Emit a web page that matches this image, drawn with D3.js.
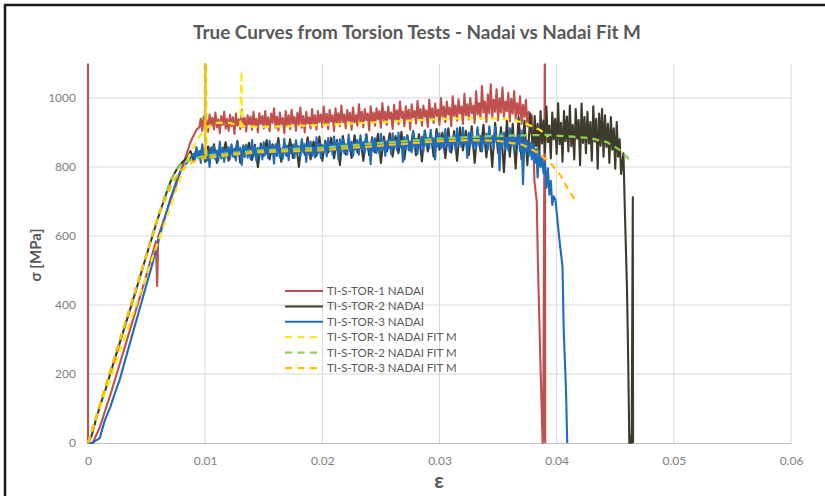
<!DOCTYPE html>
<html lang="en">
  <head>
    <meta charset="utf-8">
    <title>True Curves from Torsion Tests</title>
    <script src="https://d3js.org/d3.v7.min.js"></script>
    <style>
      body { margin: 0; background: #fff; }
      text { font-family: Lato, "Open Sans", sans-serif; }
    </style>
  </head>
  <body>
    <script>

      // [strain, stress MPa]
      var tor1 = [[0,1250],[0,0],[0.0004,0],[0.001,45],[0.002,150],[0.003,262],[0.004,375],[0.005,488],[0.0058,585],[0.0059,455],[0.006,600],[0.0065,650],[0.007,700],[0.0075,745],[0.0078,780],[0.0081,805],[0.0084,835],[0.0087,868],[0.0089,884],[0.0093,910],
        [0.0095,915],[0.009625,940],[0.00975,905],[0.009875,946],[0.01,918],[0.010125,936],[0.01025,902],[0.010375,952],[0.0105,920],[0.010625,943],[0.01075,909],[0.010875,958],[0.011,915],[0.011125,938],[0.01125,898],[0.011375,948],
        [0.0115,922],[0.011625,960],[0.01175,912],[0.011875,940],[0.012,905],[0.012125,952],[0.01225,918],[0.012375,944],[0.0125,896],[0.012625,955],[0.01275,920],[0.012875,938],[0.013,910],[0.013125,966],[0.01325,916],[0.013375,942],
        [0.0135,903],[0.013625,950],[0.01375,924],[0.013875,946],[0.014,908],[0.014125,960],[0.01425,919],[0.014375,940],[0.0145,900],[0.014625,956],[0.01475,925],[0.014875,948],[0.015,912],[0.015125,962],[0.01525,920],[0.015375,944],
        [0.0155,904],[0.015625,955],[0.01575,928],[0.015875,970],[0.016,914],[0.016125,946],[0.01625,906],[0.016375,958],[0.0165,924],[0.016625,942],[0.01675,898],[0.016875,962],[0.017,920],[0.017125,950],[0.01725,910],[0.017375,966],
        [0.0175,926],[0.017625,945],[0.01775,905],[0.017875,958],[0.018,922],[0.018125,972],[0.01825,914],[0.018375,948],[0.0185,900],[0.018625,960],[0.01875,926],[0.018875,944],[0.019,912],[0.019125,968],[0.01925,922],[0.019375,950],
        [0.0195,908],[0.019625,962],[0.01975,930],[0.019875,952],[0.02,916],[0.020125,975],[0.02025,925],[0.020375,954],[0.0205,910],[0.020625,966],[0.02075,932],[0.020875,950],[0.021,904],[0.021125,970],[0.02125,928],[0.021375,956],
        [0.0215,918],[0.021625,978],[0.02175,930],[0.021875,952],[0.022,912],[0.022125,965],[0.02225,934],[0.022375,958],[0.0225,908],[0.022625,972],[0.02275,929],[0.022875,950],[0.023,920],[0.023125,982],[0.02325,932],[0.023375,960],
        [0.0235,915],[0.023625,968],[0.02375,936],[0.023875,955],[0.024,906],[0.024125,976],[0.02425,930],[0.024375,958],[0.0245,920],[0.024625,970],[0.02475,938],[0.024875,962],[0.025,914],[0.025125,985],[0.02525,935],[0.025375,960],
        [0.0255,922],[0.025625,975],[0.02575,940],[0.025875,958],[0.026,910],[0.026125,980],[0.02625,936],[0.026375,964],[0.0265,924],[0.026625,990],[0.02675,942],[0.026875,960],[0.027,918],[0.027125,976],[0.02725,938],[0.027375,966],
        [0.0275,908],[0.027625,982],[0.02775,944],[0.027875,962],[0.028,926],[0.028125,992],[0.02825,940],[0.028375,968],[0.0285,920],[0.028625,978],[0.02875,946],[0.028875,964],[0.029,916],[0.029125,995],[0.02925,942],[0.029375,970],
        [0.0295,928],[0.029625,984],[0.02975,948],[0.029875,966],[0.03,922],[0.030125,1000],[0.03025,946],[0.030375,975],[0.0305,930],[0.030625,990],[0.03075,952],[0.030875,972],[0.031,918],[0.031125,1005],[0.03125,948],[0.031375,978],
        [0.0315,935],[0.031625,996],[0.03175,955],[0.031875,975],[0.032,925],[0.032125,1012],[0.03225,950],[0.032375,982],[0.0325,938],[0.032625,1000],[0.03275,956],[0.032875,978],[0.033,928],[0.033125,1020],[0.03325,952],[0.033375,985],
        [0.0335,940],[0.033625,1035],[0.03375,958],[0.033875,990],[0.034,930],[0.034125,1010],[0.03425,955],[0.034375,1040],[0.0345,942],[0.034625,995],[0.03475,960],[0.034875,1025],[0.035,935],[0.035125,1000],[0.03525,958],[0.035375,1030],
        [0.0355,945],[0.035625,990],[0.03575,962],[0.035875,1015],[0.036,932],[0.036125,998],[0.03625,955],[0.036375,1020],[0.0365,940],[0.036625,985],[0.03675,950],[0.036875,1005],[0.037,925],[0.037125,980],[0.03725,945],[0.037375,995],
        [0.0375,918],[0.037625,960],[0.03775,900],[0.037875,950],[0.038,880],[0.0381,760],[0.0383,700],[0.0384,520],[0.0386,250],[0.0388,0],[0.03885,10],[0.039,1250],[0.03902,0]];

      var tor2 = [[0,0],[0.0003,20],[0.0006,58],[0.001,105],[0.00145,150],[0.002,212],[0.003,322],[0.004,432],[0.005,545],[0.006,655],[0.0065,705],[0.0069,745],[0.0072,770],[0.0076,795],[0.008,812],
        [0.0085,828],[0.00875,846],[0.009,818],[0.00925,852],[0.0095,825],[0.00975,858],[0.01,815],[0.01025,860],[0.0105,830],[0.01075,866],[0.011,812],[0.01125,858],[0.0115,836],[0.01175,872],[0.012,818],[0.01225,860],
        [0.0125,828],[0.01275,876],[0.013,812],[0.01325,862],[0.0135,838],[0.01375,870],[0.014,820],[0.01425,864],[0.0145,800],[0.01475,868],[0.015,832],[0.01525,878],[0.0155,822],[0.01575,866],[0.016,838],[0.01625,884],
        [0.0165,815],[0.01675,870],[0.017,832],[0.01725,880],[0.0175,826],[0.01775,872],[0.018,800],[0.01825,876],[0.0185,836],[0.01875,886],[0.019,822],[0.01925,874],[0.0195,832],[0.01975,888],[0.02,818],[0.02025,876],
        [0.0205,842],[0.02075,885],[0.021,825],[0.02125,878],[0.0215,806],[0.02175,890],[0.022,836],[0.02225,882],[0.0225,826],[0.02275,892],[0.023,842],[0.02325,884],[0.0235,818],[0.02375,895],[0.024,834],[0.02425,886],
        [0.0245,842],[0.02475,896],[0.025,812],[0.02525,888],[0.0255,845],[0.02575,898],[0.026,830],[0.02625,890],[0.0265,840],[0.02675,902],[0.027,822],[0.02725,892],[0.0275,848],[0.02775,904],[0.028,834],[0.02825,895],
        [0.0285,816],[0.02875,906],[0.029,845],[0.02925,898],[0.0295,830],[0.02975,910],[0.03,850],[0.03025,900],[0.0305,826],[0.03075,912],[0.031,842],[0.03125,904],[0.0315,818],[0.03175,914],[0.032,848],[0.03225,905],
        [0.0325,835],[0.03275,918],[0.033,812],[0.03325,908],[0.0335,846],[0.03375,922],[0.034,828],[0.03425,912],[0.0345,800],[0.03475,928],[0.035,840],[0.03525,915],[0.0355,785],[0.03575,935],[0.036,830],[0.03625,925],
        [0.0365,795],[0.03675,945],[0.037,822],[0.03725,935],[0.0375,805],[0.03775,955],
        [0.038,832],[0.038125,948],[0.03825,860],[0.038375,925],[0.0385,812],[0.038625,962],[0.03875,868],[0.038875,935],[0.039,842],[0.039125,975],[0.03925,872],[0.039375,920],[0.0395,825],[0.039625,958],[0.03975,880],[0.039875,940],
        [0.04,838],[0.040125,985],[0.04025,866],[0.040375,928],[0.0405,815],[0.040625,962],[0.04075,875],[0.040875,946],[0.041,845],[0.041125,978],[0.04125,860],[0.041375,922],[0.0415,822],[0.041625,968],[0.04175,882],[0.041875,936],
        [0.042,805],[0.042125,984],[0.04225,870],[0.042375,945],[0.0425,840],[0.042625,960],[0.04275,868],[0.042875,930],[0.043,818],[0.043125,976],[0.04325,874],[0.043375,940],[0.0435,795],[0.043625,955],[0.04375,862],[0.043875,968],
        [0.044,830],[0.044125,950],[0.04425,858],[0.044375,925],[0.0445,812],[0.044625,945],[0.04475,850],[0.044875,912],[0.045,795],[0.045125,930],[0.04525,830],[0.045375,880],[0.0455,780],
        [0.0457,840],[0.0458,700],[0.046,450],[0.0461,250],[0.0462,0],[0.0463,20],[0.0464,0],[0.0465,712],[0.04652,0]];

      var tor3 = [[0,0],[0.00034,0],[0.00077,9],[0.001,14],[0.0012,38],[0.00145,67],[0.0019,104],[0.0023,145],[0.0027,183],[0.0035,280],[0.0045,400],[0.0055,520],[0.0062,610],[0.007,704],[0.0075,755],[0.008,795],[0.0085,815],
        [0.009,838],[0.009125,820],[0.00925,858],[0.009375,826],[0.0095,846],[0.009625,812],[0.00975,866],[0.009875,828],[0.01,851],[0.010125,817],[0.01025,845],[0.010375,800],[0.0105,857],[0.010625,826],[0.01075,860],[0.010875,822],
        [0.011,848],[0.011125,818],[0.01125,874],[0.011375,825],[0.0115,856],[0.011625,815],[0.01175,852],[0.011875,830],[0.012,858],[0.012125,824],[0.01225,866],[0.012375,831],[0.0125,853],[0.012625,819],[0.01275,870],[0.012875,834],
        [0.013,856],[0.013125,806],[0.01325,862],[0.013375,829],[0.0135,865],[0.013625,827],[0.01375,851],[0.013875,823],[0.014,878],[0.014125,830],[0.01425,859],[0.014375,818],[0.0145,855],[0.014625,835],[0.01475,860],[0.014875,822],
        [0.015,872],[0.015125,836],[0.01525,857],[0.015375,826],[0.0155,876],[0.015625,838],[0.01575,861],[0.015875,810],[0.016,866],[0.016125,832],[0.01625,869],[0.016375,828],[0.0165,853],[0.016625,824],[0.01675,882],[0.016875,835],
        [0.017,862],[0.017125,820],[0.01725,858],[0.017375,840],[0.0175,865],[0.017625,827],[0.01775,878],[0.017875,841],[0.018,860],[0.018125,830],[0.01825,881],[0.018375,842],[0.0185,866],[0.018625,815],[0.01875,872],[0.018875,836],
        [0.019,874],[0.019125,832],[0.01925,857],[0.019375,828],[0.0195,886],[0.019625,840],[0.01975,867],[0.019875,826],[0.02,864],[0.020125,845],[0.02025,870],[0.020375,831],[0.0205,884],[0.020625,846],[0.02075,866],[0.020875,836],
        [0.021,888],[0.021125,850],[0.02125,873],[0.021375,822],[0.0215,880],[0.021625,845],[0.02175,881],[0.021875,840],[0.022,866],[0.022125,836],[0.02225,894],[0.022375,846],[0.0225,873],[0.022625,832],[0.02275,870],[0.022875,850],
        [0.023,878],[0.023125,836],[0.02325,892],[0.023375,851],[0.0235,872],[0.023625,842],[0.02375,895],[0.023875,850],[0.024,869],[0.024125,808],[0.02425,880],[0.024375,846],[0.0245,883],[0.024625,841],[0.02475,868],[0.024875,838],
        [0.025,896],[0.025125,850],[0.02525,878],[0.025375,832],[0.0255,874],[0.025625,853],[0.02575,880],[0.025875,837],[0.026,898],[0.026125,856],[0.02625,878],[0.026375,848],[0.0265,900],[0.026625,857],[0.02675,876],[0.026875,815],
        [0.027,887],[0.027125,852],[0.02725,890],[0.027375,848],[0.0275,873],[0.027625,843],[0.02775,902],[0.027875,854],[0.028,882],[0.028125,838],[0.02825,880],[0.028375,860],[0.0285,888],[0.028625,844],[0.02875,905],[0.028875,862],
        [0.029,884],[0.029125,854],[0.02925,908],[0.029375,864],[0.0295,883],[0.029625,822],[0.02975,895],[0.029875,859],[0.03,898],[0.030125,855],[0.03025,880],[0.030375,850],[0.0305,910],[0.030625,861],[0.03075,889],[0.030875,845],
        [0.031,885],[0.031125,866],[0.03125,893],[0.031375,849],[0.0315,912],[0.031625,866],[0.03175,888],[0.031875,858],[0.032,914],[0.032125,868],[0.03225,886],[0.032375,826],[0.0325,900],[0.032625,862],[0.03275,902],[0.032875,857],
        [0.033,884],[0.033125,852],[0.03325,915],[0.033375,864],[0.0335,890],[0.033625,845],[0.03375,888],[0.033875,868],[0.034,896],[0.034125,850],[0.03425,918],[0.034375,867],[0.0345,890],[0.034625,858],[0.03475,916],[0.034875,870],
        [0.035,888],[0.035125,790],[0.03525,898],[0.035375,862],[0.0355,900],[0.035625,853],[0.03575,883],[0.035875,848],[0.036,912],[0.036125,862],[0.03625,889],[0.036375,843],[0.0365,885],[0.036625,864],[0.03675,892],[0.036875,845],
        [0.037,906],[0.037125,750],[0.03725,880],[0.037375,845],[0.0375,876],[0.037625,832],[0.03775,870],[0.037875,822],[0.038,866],[0.038125,812],[0.03825,852],[0.038375,770],[0.0385,846],[0.038625,800],[0.03875,830],[0.038875,782],
        [0.039,815],[0.039125,740],[0.03925,796],[0.039375,720],[0.0395,760],[0.039625,690],[0.03975,715],[0.0399,704],[0.0402,600],[0.0405,510],[0.0406,328],[0.0408,150],[0.0409,0]];

      var fit1 = [[0,0],[0.001,100],[0.002,195],[0.003,292],[0.004,390],[0.005,488],[0.006,585],[0.007,680],[0.0078,760],[0.0083,805],[0.0087,838],[0.0091,865],[0.0096,893],[0.0101,913],[0.0105,922],[0.011,928],[0.0121,928],[0.013,918],
        [0.0131,1078],[0.01315,918],[0.0147,916],[0.017,918],[0.02,922],[0.025,930],[0.03,939],[0.033,942],[0.036,939],[0.0373,927],[0.0386,907],[0.0393,887]];

      var fit2 = [[0,0],[0.001,110],[0.002,220],[0.003,330],[0.004,440],[0.005,550],[0.006,660],[0.0065,710],[0.007,755],[0.0075,790],[0.008,810],[0.0085,818],[0.009,822],[0.0095,828],[0.00998,833],[0.00998,1250],[0.01,833],
        [0.0121,840],[0.0147,848],[0.02,856],[0.025,870],[0.03,882],[0.0326,887],[0.036,891],[0.0392,893],[0.0428,884],[0.0443,872],[0.0454,849],[0.0464,815]];

      var fit3 = [[0,0],[0.001,110],[0.002,218],[0.003,327],[0.004,436],[0.005,545],[0.006,655],[0.0065,700],[0.007,738],[0.0075,770],[0.008,792],[0.0085,806],[0.009,815],[0.0095,822],[0.01,826],[0.01005,1250],[0.0101,826],
        [0.0121,835],[0.0147,843],[0.02,849],[0.025,862],[0.03,875],[0.0326,878],[0.035,876],[0.03713,864],[0.0383,843],[0.0394,814],[0.0403,777],[0.0411,728],[0.0416,704]];

      var seriesNames = ["TI-S-TOR-1 NADAI", "TI-S-TOR-2 NADAI", "TI-S-TOR-3 NADAI",
                         "TI-S-TOR-1 NADAI FIT M", "TI-S-TOR-2 NADAI FIT M", "TI-S-TOR-3 NADAI FIT M"];
      var seriesData = [tor1, tor2, tor3, fit1, fit2, fit3];
      var seriesColors = ["#C0504D", "#3D3B2B", "#1F6CBC", "#FFE81A", "#92D050", "#FFC000"];
      var seriesDashed = [false, false, false, true, true, true];

      var xTicks = [0, 0.01, 0.02, 0.03, 0.04, 0.05, 0.06];
      var yTicks = [0, 200, 400, 600, 800, 1000];

      var W = 825, H = 496;
      // plot box (don't call it "top", that's window.top)
      var plotL = 88, plotR = 791, plotT = 63.5, plotB = 443;

      var svg = d3.select("body").append("svg")
                  .attr("width", W)
                  .attr("height", H);

      var x = d3.scaleLinear().domain([0, 0.06]).range([plotL, plotR]);
      var y = d3.scaleLinear().domain([0, 1100]).range([plotB, plotT]);

      // outer frame
      svg.append("rect")
         .attr("x", 5).attr("y", 5)
         .attr("width", 860).attr("height", 520)
         .attr("fill", "none")
         .attr("stroke", "#1a1a1a")
         .attr("stroke-width", 2.5);

      svg.append("text")
         .attr("x", 417).attr("y", 39)
         .attr("text-anchor", "middle")
         .attr("textLength", 448)
         .attr("lengthAdjust", "spacingAndGlyphs")
         .style("font-size", "18.5px")
         .style("font-weight", "bold")
         .style("fill", "#595959")
         .text("True Curves from Torsion Tests - Nadai vs Nadai Fit M");

      // grid
      svg.append("g").selectAll("line")
         .data(yTicks.slice(1))
         .enter().append("line")
         .attr("x1", plotL).attr("x2", plotR)
         .attr("y1", function(d) { return y(d); })
         .attr("y2", function(d) { return y(d); })
         .attr("stroke", "#D9D9D9");

      svg.append("g").selectAll("line")
         .data(xTicks.slice(1))
         .enter().append("line")
         .attr("x1", function(d) { return x(d); })
         .attr("x2", function(d) { return x(d); })
         .attr("y1", plotT).attr("y2", plotB)
         .attr("stroke", "#D9D9D9");

      // axes
      var xAxis = svg.append("g")
         .attr("transform", "translate(0," + plotB + ")")
         .call(d3.axisBottom(x).tickValues(xTicks).tickSize(0).tickPadding(13)
               .tickFormat(function(d) { return d === 0 ? "0" : d3.format(".2f")(d); }));
      xAxis.select(".domain").attr("stroke", "#BFBFBF");

      var yAxis = svg.append("g")
         .attr("transform", "translate(" + plotL + ",0)")
         .call(d3.axisLeft(y).tickValues(yTicks).tickSize(0).tickPadding(12)
               .tickFormat(d3.format("d")));
      yAxis.select(".domain").remove();

      svg.selectAll(".tick text")
         .style("font-family", "Lato, sans-serif")
         .style("font-size", "12px")
         .style("fill", "#808080");

      svg.append("text")
         .attr("transform", "translate(41,255) rotate(-90)")
         .attr("text-anchor", "middle")
         .style("font-size", "15px")
         .style("font-weight", "bold")
         .style("fill", "#595959")
         .text("σ [MPa]");

      svg.append("text")
         .attr("x", 439).attr("y", 488)
         .attr("text-anchor", "middle")
         .style("font-size", "21px")
         .style("font-weight", "bold")
         .style("fill", "#595959")
         .text("ε");

      // series
      svg.append("clipPath").attr("id", "plot")
         .append("rect")
         .attr("x", plotL - 2).attr("y", plotT)
         .attr("width", plotR - plotL + 4).attr("height", plotB - plotT + 1);

      var line = d3.line()
                   .x(function(d) { return x(d[0]); })
                   .y(function(d) { return y(d[1]); });

      svg.append("g").attr("clip-path", "url(#plot)")
         .selectAll("path")
         .data(seriesData)
         .enter().append("path")
         .attr("d", line)
         .attr("fill", "none")
         .attr("stroke", function(d, i) { return seriesColors[i]; })
         .attr("stroke-width", function(d, i) { return seriesDashed[i] ? 2.25 : 2.1; })
         .attr("stroke-dasharray", function(d, i) { return seriesDashed[i] ? "7,5" : null; })
         .attr("stroke-linejoin", "round");

      // legend
      var legend = svg.append("g").selectAll("g")
         .data(seriesNames)
         .enter().append("g")
         .attr("transform", function(d, i) { return "translate(285," + (291 + i * 15.4) + ")"; });

      legend.append("line")
         .attr("x1", 0).attr("x2", 38)
         .attr("stroke", function(d, i) { return seriesColors[i]; })
         .attr("stroke-width", function(d, i) { return seriesDashed[i] ? 2.25 : 2; })
         .attr("stroke-dasharray", function(d, i) { return seriesDashed[i] ? "7,5.5" : null; });

      legend.append("text")
         .attr("x", 42).attr("y", 4)
         .style("font-size", "11.5px")
         .style("fill", "#595959")
         .text(function(d) { return d; });

    </script>
  </body>
</html>
